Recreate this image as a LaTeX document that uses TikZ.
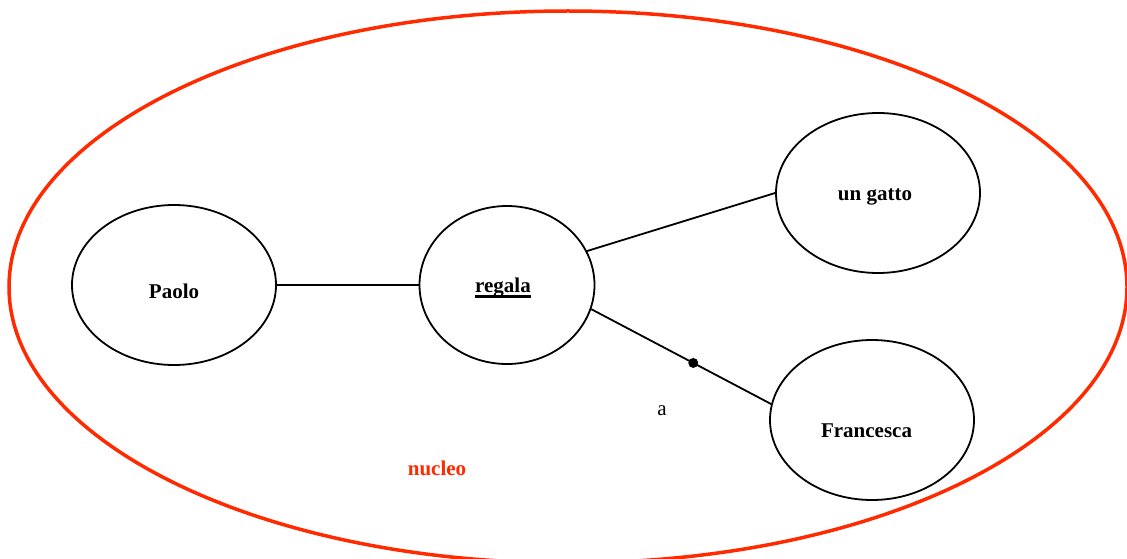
\documentclass[tikz,border=0pt]{standalone}
\usepackage{fontspec}
\setmainfont{Liberation Serif}
\usetikzlibrary{shapes.geometric, positioning}
\definecolor{coreRed}{RGB}{255,42,0}
\newcommand{\thickul}[1]{\setbox0\hbox{#1}\rlap{\rule[-5.5pt]{\wd0}{2.5pt}}\box0}

\begin{document}
\begin{tikzpicture}[x=1pt,y=-1pt,on grid,
  term/.style={draw, ellipse, line width=1.8pt, inner sep=0pt,
    minimum width=204pt, minimum height=160pt, text depth=0pt,
    font=\fontsize{21}{25}\selectfont\bfseries},
  lift/.style={text height=#1},
  link/.style={line width=1.8pt}]
\useasboundingbox (0,0) rectangle (1127,559);

\node[draw=coreRed, ellipse, line width=3.5pt, minimum width=1118pt, minimum height=552pt] (core) at (568,287) {};

\node[term, lift=14pt, minimum width=175pt, minimum height=158pt] (regala) at (507,285) {\thickul{regala}\kern8pt};
\node[term, lift=26pt, left = 333pt of regala] (paolo) {Paolo};
\node[term, lift=14pt, above right = 92pt and 371pt of regala] (gatto) {un gatto\kern6pt};
\node[term, lift=34pt, below right = 135pt and 365pt of regala] (francesca) {Francesca\kern11pt};

\node[font=\fontsize{21}{25}\selectfont] (prep) at (662,411) {a};
\node[font=\fontsize{21}{25}\selectfont\bfseries, text=coreRed] (nucleo) at (437,468) {nucleo};

\draw[link] (paolo.east) -- (regala.west);
\draw[link] (regala.23) -- (gatto.west);
\draw[link] (regala.-16) -- node[pos=0.567, circle, fill, inner sep=0pt, minimum size=10pt] (mark) {} (francesca.171);
\end{tikzpicture}
\end{document}
